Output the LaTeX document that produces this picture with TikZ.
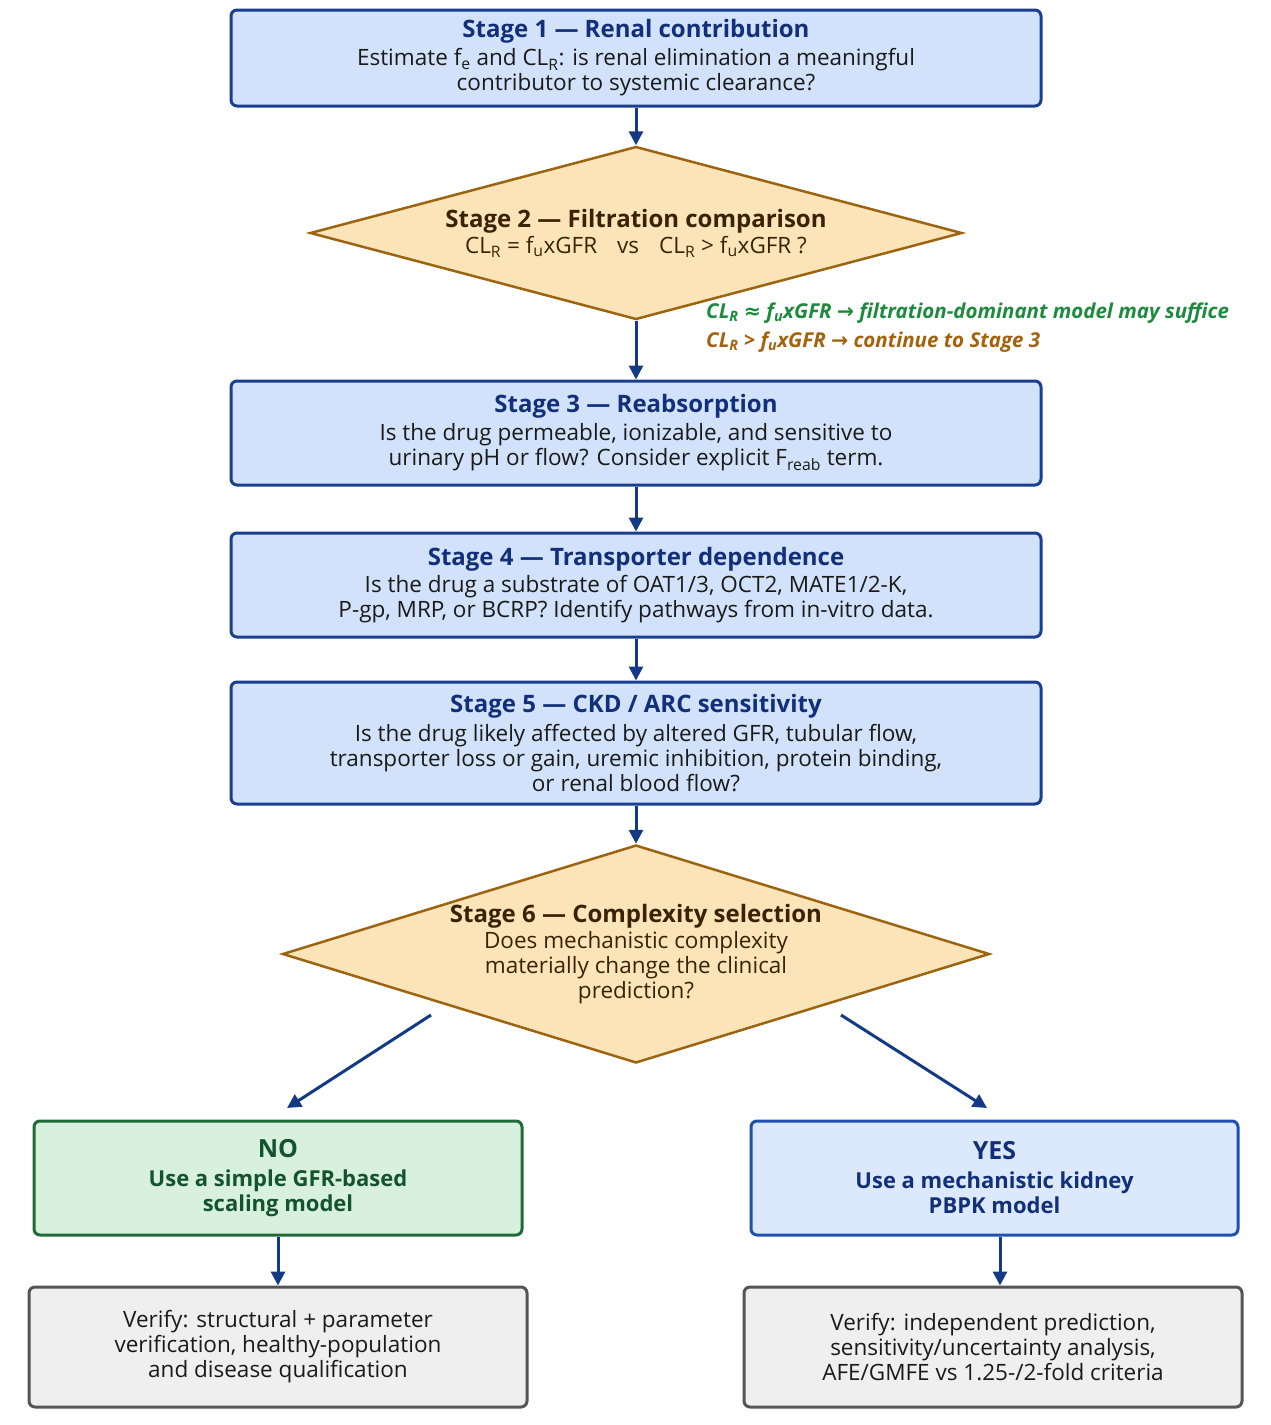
\documentclass[tikz,border=0pt]{standalone}
\usepackage{fontspec}
\setmainfont{Open Sans}
\newfontfamily\symfont{DejaVu Sans}
\usetikzlibrary{shapes.geometric,arrows.meta}
\definecolor{navy}{HTML}{12307A}
\definecolor{bborder}{HTML}{1A3F8F}
\definecolor{bfill}{HTML}{D1E2FA}
\definecolor{arrowc}{HTML}{143A86}
\definecolor{dfill}{HTML}{FBE4B8}
\definecolor{dborder}{HTML}{9C6410}
\definecolor{dtext}{HTML}{3B2206}
\definecolor{anngreen}{HTML}{1D8A3E}
\definecolor{annbrown}{HTML}{A5620E}
\definecolor{gborder}{HTML}{1F6B38}
\definecolor{gfill}{HTML}{D8F1DE}
\definecolor{gtext}{HTML}{14532D}
\definecolor{yfill}{HTML}{DCE9FC}
\definecolor{yborder}{HTML}{1F4FB0}
\definecolor{vborder}{HTML}{555555}
\definecolor{vfill}{HTML}{EFEFEF}
\definecolor{vtext}{HTML}{1A1A1A}
\definecolor{btext}{HTML}{1A1A1A}
\newcommand{\titlef}{\fontsize{24}{29}\selectfont\bfseries}
\newcommand{\sym}[1]{{\symfont #1}}
\begin{document}
\begin{tikzpicture}[x=1pt,y=-1pt,
  bluebox/.style={draw=bborder, fill=bfill, line width=3pt, rounded corners=6pt,
    align=center, inner sep=0pt, text=btext, font=\fontsize{22.5}{25}\selectfont},
  decision/.style={diamond, draw=dborder, fill=dfill, line width=2.5pt, inner sep=0pt,
    align=center, text=dtext, font=\fontsize{22.5}{25}\selectfont},
  nobox/.style={draw=gborder, fill=gfill, line width=3pt, rounded corners=6pt,
    align=center, inner sep=0pt, text=gtext, font=\fontsize{22}{25}\selectfont\bfseries},
  yesbox/.style={draw=yborder, fill=yfill, line width=3pt, rounded corners=6pt,
    align=center, inner sep=0pt, text=navy, font=\fontsize{22}{25}\selectfont\bfseries},
  verbox/.style={draw=vborder, fill=vfill, line width=3pt, rounded corners=6pt,
    align=center, inner sep=0pt, text=vtext, font=\fontsize{22.5}{25}\selectfont},
  ann/.style={anchor=west, inner sep=0pt, font=\fontsize{20.5}{22}\selectfont\bfseries\itshape},
  flow/.style={draw=arrowc, line width=3pt, -{Triangle[length=14pt,width=14pt]}}
]
\useasboundingbox[fill=white] (0,0) rectangle (1271,1425);

\node[bluebox, minimum width=810pt, minimum height=96pt] (s1) at (636,58)
  {{\titlef\color{navy}Stage 1 — Renal contribution}\\[3pt]
   Estimate f\textsubscript{e} and CL\textsubscript{R}: is renal elimination a meaningful\\
   contributor to systemic clearance?};

\node[decision, minimum width=652pt, minimum height=173pt, shape aspect=3.77] (s2) at (636,233)
  {{\titlef Stage 2 — Filtration comparison}\\[1pt]
   CL\textsubscript{R} = f\textsubscript{u}xGFR\hspace{20pt}vs\hspace{20pt}CL\textsubscript{R} > f\textsubscript{u}xGFR ?};

\node[ann, text=anngreen] (a1) at (706,313)
  {CL\textsubscript{R} \sym{≈} f\textsubscript{u}xGFR \sym{→} filtration-dominant model may suffice};
\node[ann, text=annbrown] (a2) at (706,342)
  {CL\textsubscript{R} > f\textsubscript{u}xGFR \sym{→} continue to Stage 3};

\node[bluebox, minimum width=810pt, minimum height=104pt] (s3) at (636,433)
  {{\titlef\color{navy}Stage 3 — Reabsorption}\\[3pt]
   Is the drug permeable, ionizable, and sensitive to\\
   urinary pH or flow? Consider explicit F\textsubscript{reab} term.};

\node[bluebox, minimum width=810pt, minimum height=104pt] (s4) at (636,585)
  {{\titlef\color{navy}Stage 4 — Transporter dependence}\\[2pt]
   Is the drug a substrate of OAT1/3, OCT2, MATE1/2-K,\\
   P-gp, MRP, or BCRP? Identify pathways from in-vitro data.};

\node[bluebox, minimum width=810pt, minimum height=122pt] (s5) at (636,743)
  {{\titlef\color{navy}Stage 5 — CKD / ARC sensitivity}\\[4pt]
   Is the drug likely affected by altered GFR, tubular flow,\\
   transporter loss or gain, uremic inhibition, protein binding,\\
   or renal blood flow?};

\node[decision, minimum width=707pt, minimum height=218pt, shape aspect=3.24] (s6) at (636,954)
  {{\titlef Stage 6 — Complexity selection}\\[1pt]
   Does mechanistic complexity\\
   materially change the clinical\\
   prediction?};

\node[nobox, minimum width=488pt, minimum height=114pt] (no) at (278,1178)
  {{\fontsize{25}{31}\selectfont NO}\\[4pt]
   Use a simple GFR-based\\ scaling model};

\node[yesbox, minimum width=487pt, minimum height=114pt] (yes) at (994.5,1178)
  {{\fontsize{25}{31}\selectfont YES}\\[4pt]
   Use a mechanistic kidney\\ PBPK model};

\node[verbox, minimum width=498pt, minimum height=120pt] (v1) at (278,1347)
  {Verify: structural + parameter\\
   verification, healthy-population\\
   and disease qualification};

\node[verbox, minimum width=498pt, minimum height=120pt] (v2) at (993,1347)
  {Verify: independent prediction,\\
   sensitivity/uncertainty analysis,\\
   AFE/GMFE vs 1.25-/2-fold criteria};

\coordinate (l1) at (431,1015);
\coordinate (l2) at (287,1108);
\coordinate (r1) at (841,1015);
\coordinate (r2) at (987,1108);

\draw[flow] (s1.south) -- (s2.north);
\draw[flow] (s2.south) -- (s3.north);
\draw[flow] (s3.south) -- (s4.north);
\draw[flow] (s4.south) -- (s5.north);
\draw[flow] (s5.south) -- (s6.north);
\draw[flow] (l1) -- (l2);
\draw[flow] (r1) -- (r2);
\draw[flow] (no.south) -- (v1.north);
\draw[flow] ([xshift=5.5pt]yes.south) -- ([xshift=5.5pt]yes.south |- v2.north);
\end{tikzpicture}
\end{document}
